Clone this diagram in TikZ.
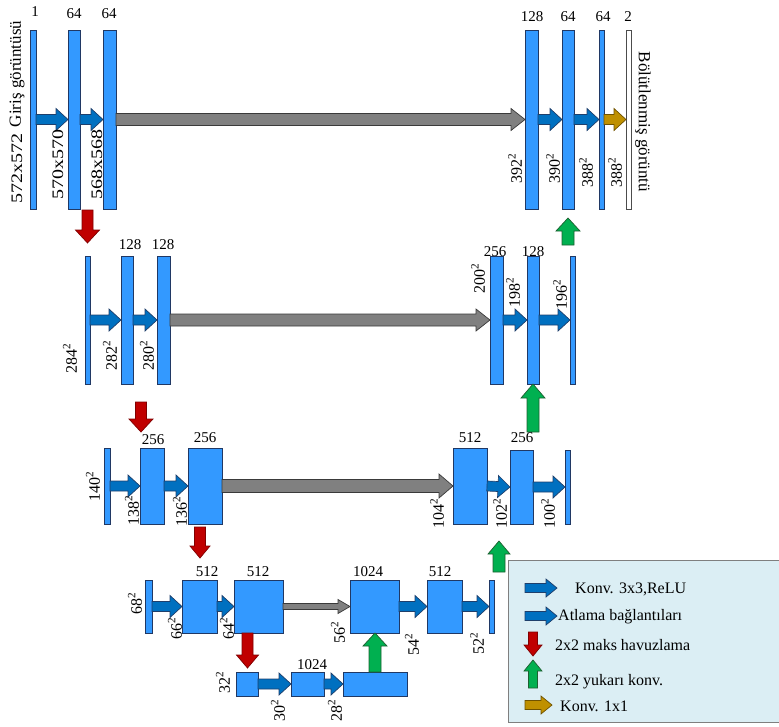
\documentclass[tikz,border=0pt]{standalone}
\usepackage{fontspec}
\setmainfont{Liberation Serif}
\usetikzlibrary{calc}
\definecolor{barc}{HTML}{3399FF}
\definecolor{edgec}{HTML}{203864}
\definecolor{blarr}{HTML}{0070C0}
\definecolor{blarredge}{HTML}{1F3F6B}
\definecolor{grarr}{HTML}{808080}
\definecolor{grarredge}{HTML}{3A3A3A}
\definecolor{rdarr}{HTML}{C00000}
\definecolor{rdarredge}{HTML}{7F0000}
\definecolor{gnarr}{HTML}{00B050}
\definecolor{gnarredge}{HTML}{1E5F30}
\definecolor{gdarr}{HTML}{BF9000}
\definecolor{gdarredge}{HTML}{6F5200}
\definecolor{legfill}{HTML}{DBEEF4}
\definecolor{legedge}{HTML}{7F7F7F}
\newcommand\ubox[6][]{\node[ubar,minimum width={#5-#3},minimum height={#6-#4},#1] (#2) at ({(#3+#5)/2},{(#4+#6)/2}) {};}
\newcommand\blk[6]{%
  \path ($(#3)!#6!(#2)$) coordinate (bkH);
  \draw[#1] ($(#2)!#4!90:(#3)$) -- ($(bkH)!#4!90:(#3)$) -- ($(bkH)!#5!90:(#3)$) -- (#3) -- ($(bkH)!#5!-90:(#3)$) -- ($(bkH)!#4!-90:(#3)$) -- ($(#2)!#4!-90:(#3)$) -- cycle;}
\newcommand\wide[1]{\scalebox{1.25}[1]{#1}}
\tikzset{
  ubar/.style={draw=edgec,fill=barc,line width=0.8pt,inner sep=0pt,outer sep=0pt},
  num/.style={font=\fontsize{15}{15}\selectfont,inner sep=0pt},
  dimlab/.style={font=\fontsize{16}{16}\selectfont,inner sep=0pt,rotate=90},
  biglab/.style={font=\fontsize{16}{16}\selectfont,inner sep=0pt,rotate=90},
  leg/.style={font=\fontsize{16}{16}\selectfont,inner sep=0pt,anchor=west},
  blue arr/.style={fill=blarr,draw=blarredge,line width=0.7pt,line join=miter},
  gray arr/.style={fill=grarr,draw=grarredge,line width=0.7pt},
  red arr/.style={fill=rdarr,draw=rdarredge,line width=0.7pt},
  green arr/.style={fill=gnarr,draw=gnarredge,line width=0.7pt},
  gold arr/.style={fill=gdarr,draw=gdarredge,line width=0.7pt}
}
\begin{document}
\begin{tikzpicture}[x=1pt,y=-1pt]
\useasboundingbox (0,0) rectangle (779,726);
% ---------------- Row 1
\ubox{i1}{30}{30}{36}{209}
\ubox{i2}{68}{30}{80}{209}
\ubox{i3}{103}{30}{116}{209}
\ubox{o1}{525}{30}{538}{209}
\ubox{o2}{562}{30}{574}{209}
\ubox{o3}{599}{30}{604}{209}
\ubox[fill=white,draw=black!70]{o4}{626}{30}{631}{209}
% ---------------- Row 2
\ubox{a1}{85}{256}{90}{384}
\ubox{a2}{121}{256}{133}{384}
\ubox{a3}{157}{256}{170}{384}
\ubox{c1}{490}{256}{503}{384}
\ubox{c2}{527}{256}{539}{384}
\ubox{c3}{570}{256}{575}{384}
% ---------------- Row 3
\ubox{d1}{104}{448}{110}{524}
\ubox{d2}{140}{448}{164}{524}
\ubox{d3}{188}{448}{222}{524}
\ubox{e1}{453}{448}{487}{524}
\ubox{e2}{510}{450}{533}{524}
\ubox{e3}{565}{450}{570}{524}
% ---------------- Row 4
\ubox{f1}{145}{580}{152}{633}
\ubox{f2}{182}{580}{217}{633}
\ubox{f3}{234}{580}{283}{633}
\ubox{g1}{350}{580}{399}{633}
\ubox{g2}{427}{580}{462}{633}
\ubox{g3}{489}{580}{494}{633}
% ---------------- Row 5
\ubox{h1}{236}{672}{258}{696}
\ubox{h2}{291}{672}{324}{696}
\ubox{h3}{343}{672}{407}{696}
% ---------------- horizontal arrows
\blk{blue arr}{i1.east}{i2.west}{5pt}{11pt}{12pt}
\blk{blue arr}{i2.east}{i3.west}{5pt}{11pt}{12pt}
\blk{blue arr}{o1.east}{o2.west}{5pt}{11pt}{12pt}
\blk{blue arr}{o2.east}{o3.west}{5pt}{11pt}{12pt}
\blk{gold arr}{o3.east}{o4.west}{5pt}{11pt}{12pt}
\blk{gray arr}{i3.east}{o1.west}{6pt}{11pt}{14pt}
\blk{blue arr}{a1.east}{a2.west}{5pt}{11pt}{12pt}
\blk{blue arr}{a2.east}{a3.west}{5pt}{11pt}{12pt}
\blk{blue arr}{c1.east}{c2.west}{5pt}{11pt}{12pt}
\blk{blue arr}{c2.east}{c3.west}{5pt}{11pt}{12pt}
\blk{gray arr}{a3.east}{c1.west}{6pt}{11pt}{14pt}
\blk{blue arr}{d1.east}{d2.west}{5pt}{11pt}{12pt}
\blk{blue arr}{d2.east}{d3.west}{5pt}{11pt}{12pt}
\blk{blue arr}{e1.east}{e2.west}{5pt}{11pt}{12pt}
\blk{blue arr}{e2.east}{e3.west}{5pt}{11pt}{12pt}
\blk{gray arr}{d3.east}{e1.west}{6.5pt}{12pt}{14pt}
\blk{blue arr}{f1.east}{f2.west}{5pt}{11pt}{12pt}
\blk{blue arr}{f2.east}{f3.west}{5pt}{11pt}{12pt}
\blk{blue arr}{g1.east}{g2.west}{5pt}{11pt}{12pt}
\blk{blue arr}{g2.east}{g3.west}{5pt}{11pt}{12pt}
\blk{gray arr}{f3.east}{g1.west}{3pt}{7pt}{12pt}
\blk{blue arr}{h1.east}{h2.west}{5pt}{11pt}{12pt}
\blk{blue arr}{h2.east}{h3.west}{5pt}{11pt}{12pt}
% ---------------- vertical arrows
\coordinate (r1a) at (87.5,210); \coordinate (r1b) at (87.5,243);
\coordinate (r2a) at (141,402);  \coordinate (r2b) at (141,432);
\coordinate (r3a) at (200,527);  \coordinate (r3b) at (200,558);
\coordinate (r4a) at (247.5,634); \coordinate (r4b) at (247.5,668);
\blk{red arr}{r1a}{r1b}{5.5pt}{12pt}{13pt}
\blk{red arr}{r2a}{r2b}{5.5pt}{12pt}{13pt}
\blk{red arr}{r3a}{r3b}{5.5pt}{10pt}{12pt}
\blk{red arr}{f3.south -| r4a}{r4b}{5.5pt}{11pt}{13pt}
\coordinate (g1a) at (568,245); \coordinate (g1b) at (568,218);
\coordinate (g2a) at (533,432);
\coordinate (g3a) at (499,572); \coordinate (g3b) at (499,541);
\coordinate (g4a) at (375,671);
\blk{green arr}{g1a}{g1b}{6pt}{12pt}{13pt}
\blk{green arr}{g2a}{c2.south -| g2a}{6pt}{12pt}{14pt}
\blk{green arr}{g3a}{g3b}{6pt}{11pt}{13pt}
\blk{green arr}{h3.north -| g4a}{g1.south -| g4a}{6pt}{12pt}{13pt}
% ---------------- channel labels
\node[num] (n1) at (35,12) {1};
\node[num] (n2) at (74,14) {64};
\node[num] (n3) at (109,14) {64};
\node[num] (n4) at (532,17) {128};
\node[num] (n5) at (568,17) {64};
\node[num] (n6) at (603,17) {64};
\node[num] (n7) at (628,17) {2};
\node[num] (n8) at (130,245) {128};
\node[num] (n9) at (163,245) {128};
\node[num] (n10) at (495,252) {256};
\node[num] (n11) at (533,252) {128};
\node[num] (n12) at (153,440) {256};
\node[num] (n13) at (205,438) {256};
\node[num] (n14) at (470,438) {512};
\node[num] (n15) at (522,438) {256};
\node[num] (n16) at (207,572) {512};
\node[num] (n17) at (258,572) {512};
\node[num] (n18) at (368,572) {1024};
\node[num] (n19) at (440,572) {512};
\node[num] (n20) at (312,665) {1024};
% ---------------- size labels
\node[biglab,font=\fontsize{17}{17}\selectfont] (s0) at (17,74) {Giriş görüntüsü};
\node[biglab] (s1) at (17,168) {\wide{572x572}};
\node[biglab] (s2) at (58,164) {\wide{570x570}};
\node[biglab] (s3) at (97,164) {\wide{568x568}};
\node[dimlab] (s4) at (515,168) {392\textsuperscript{2}};
\node[dimlab] (s5) at (553,168) {390\textsuperscript{2}};
\node[dimlab] (s6) at (586,172) {388\textsuperscript{2}};
\node[dimlab] (s7) at (615,172) {388\textsuperscript{2}};
\node[font=\fontsize{17}{17}\selectfont,inner sep=0pt,rotate=-90] (s8) at (643,122) {Bölütlenmiş görüntü};
\node[dimlab] (s9) at (70,358) {284\textsuperscript{2}};
\node[dimlab] (s10) at (110,355) {282\textsuperscript{2}};
\node[dimlab] (s11) at (147,355) {280\textsuperscript{2}};
\node[dimlab] (s12) at (478,278) {200\textsuperscript{2}};
\node[dimlab] (s13) at (513,292) {198\textsuperscript{2}};
\node[dimlab] (s14) at (560,294) {196\textsuperscript{2}};
\node[dimlab] (s15) at (93,486) {140\textsuperscript{2}};
\node[dimlab] (s16) at (132,510) {138\textsuperscript{2}};
\node[dimlab] (s17) at (180,511) {136\textsuperscript{2}};
\node[dimlab] (s18) at (437,513) {104\textsuperscript{2}};
\node[dimlab] (s19) at (500,513) {102\textsuperscript{2}};
\node[dimlab] (s20) at (548,513) {100\textsuperscript{2}};
\node[dimlab] (s21) at (135,603) {68\textsuperscript{2}};
\node[dimlab] (s22) at (175,628) {66\textsuperscript{2}};
\node[dimlab] (s23) at (227,628) {64\textsuperscript{2}};
\node[dimlab] (s24) at (338,632) {56\textsuperscript{2}};
\node[dimlab] (s25) at (412,644) {54\textsuperscript{2}};
\node[dimlab] (s26) at (477,643) {52\textsuperscript{2}};
\node[dimlab] (s27) at (223,682) {32\textsuperscript{2}};
\node[dimlab] (s28) at (278,710) {30\textsuperscript{2}};
\node[dimlab] (s29) at (335,710) {28\textsuperscript{2}};
% ---------------- legend
\fill[legfill] (508,560) rectangle (780,722);
\draw[legedge,line width=1pt] (780,560) -- (508,560) -- (508,722) -- (780,722);
\coordinate (l1a) at (525,588); \coordinate (l1b) at (557,588);
\coordinate (l2a) at (525,616); \coordinate (l2b) at (557,616);
\coordinate (l3a) at (533,632); \coordinate (l3b) at (533,656);
\coordinate (l4a) at (533,688); \coordinate (l4b) at (533,660);
\coordinate (l5a) at (525,705); \coordinate (l5b) at (552,705);
\blk{blue arr}{l1a}{l1b}{4.5pt}{9pt}{11pt}
\blk{blue arr}{l2a}{l2b}{4.5pt}{9pt}{11pt}
\blk{red arr}{l3a}{l3b}{4.5pt}{9pt}{11pt}
\blk{green arr}{l4a}{l4b}{4.5pt}{9pt}{11pt}
\blk{gold arr}{l5a}{l5b}{4.5pt}{9pt}{11pt}
\node[leg] (t1) at (575,589) {Konv. 3x3,ReLU};
\node[leg] (t2) at (558,617) {Atlama bağlantıları};
\node[leg] (t3) at (555,645) {2x2 maks havuzlama};
\node[leg] (t4) at (555,682) {2x2 yukarı konv.};
\node[leg] (t5) at (560,706) {Konv. 1x1};
\end{tikzpicture}
\end{document}
